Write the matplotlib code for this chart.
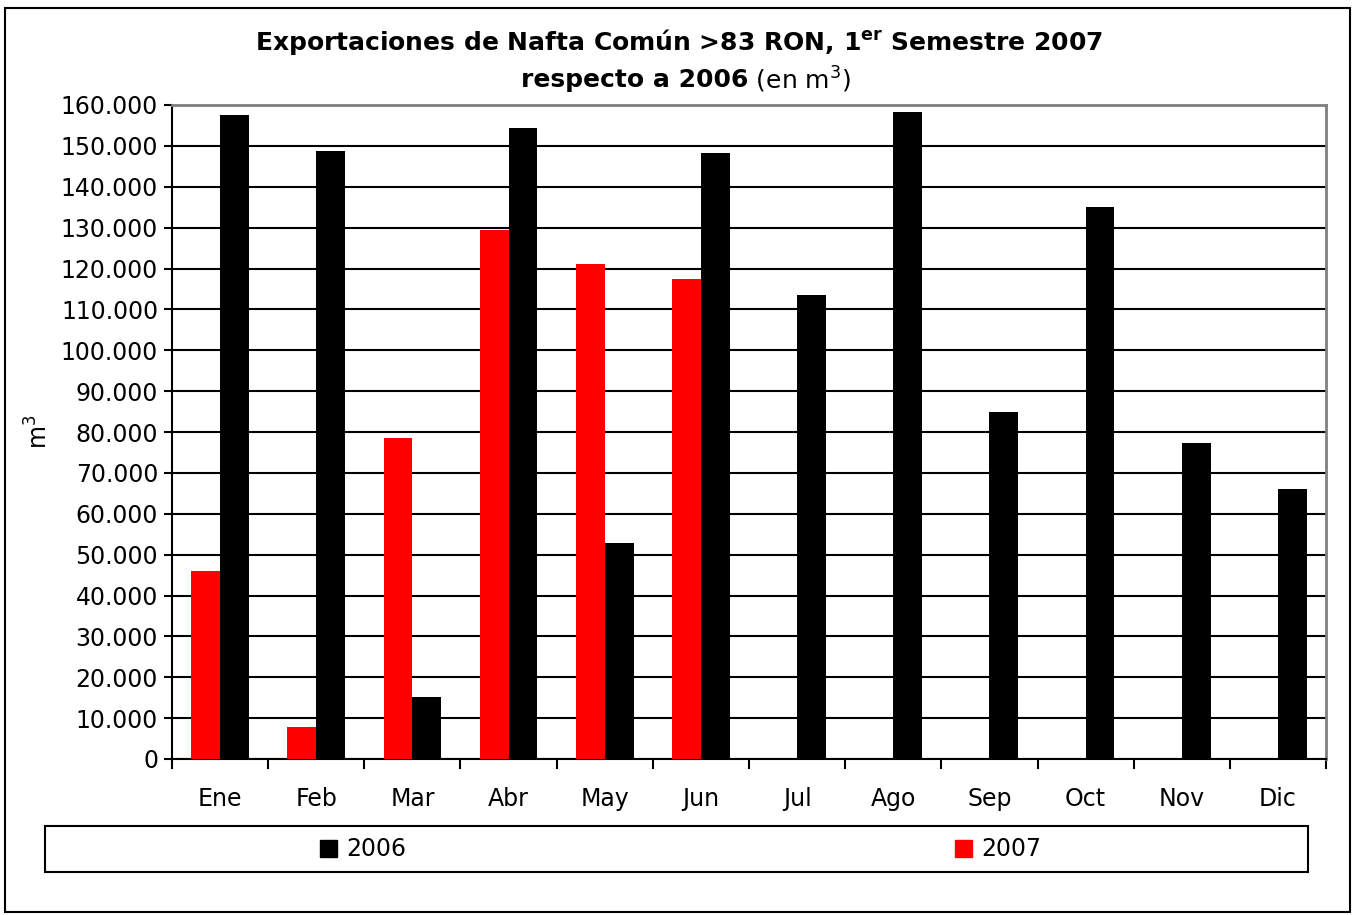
import numpy as np
from matplotlib import pyplot as plt
from matplotlib import patches as ptc
from matplotlib.ticker import FuncFormatter, MultipleLocator

meses = ['Ene', 'Feb', 'Mar', 'Abr', 'May', 'Jun',
         'Jul', 'Ago', 'Sep', 'Oct', 'Nov', 'Dic']
v2006 = [157600, 148700, 15200, 154400, 52800, 148300,
         113500, 158300, 84900, 135000, 77300, 66100]
v2007 = [46000, 7800, 78500, 129400, 121100, 117400]

plt.rcParams['font.family'] = ['DejaVu Sans']

fig = plt.figure(figsize=(13.58, 9.15), dpi=100)
# outer chart frame
fig.patches.append(ptc.Rectangle((5 / 1358, 3 / 915), 1345 / 1358, 904 / 915,
                                 transform=fig.transFigure, fill=False,
                                 edgecolor='black', linewidth=1.5))

ax = fig.add_axes([172 / 1358, 1 - 759 / 915, 1154 / 1358, 654 / 915])

x = np.arange(len(meses))
w = 0.3
ax.bar(x[:len(v2007)] - w / 2, v2007, w, color='#ff0000', zorder=3)
ax.bar(x + w / 2, v2006, w, color='black', zorder=3)

ax.set_xlim(-0.5, len(meses) - 0.5)
ax.set_ylim(0, 160000)
ax.yaxis.set_major_locator(MultipleLocator(10000))
ax.yaxis.set_major_formatter(
    FuncFormatter(lambda v, p: '0' if v == 0 else f'{int(v):,}'.replace(',', '.')))
ax.grid(axis='y', color='black', linewidth=1.5, zorder=1)

ax.set_xticks(x)
ax.set_xticklabels(meses, fontsize=17)
ax.set_xticks(np.arange(len(meses) + 1) - 0.5, minor=True)
ax.tick_params(axis='x', which='major', length=0, pad=20)
ax.tick_params(axis='x', which='minor', length=7, width=1.5, direction='out')
ax.tick_params(axis='y', labelsize=17, length=6, width=1.5, pad=4)

for s in ['top', 'right']:
    ax.spines[s].set_color('#808080')
    ax.spines[s].set_linewidth(2)
for s in ['left', 'bottom']:
    ax.spines[s].set_linewidth(1.5)

ax.set_ylabel('m$^3$', fontsize=17, labelpad=6)

fig.text(0.5, 1 - 42 / 915, 'Exportaciones de Nafta Común >83 RON, 1$^{\\mathbf{er}}$ Semestre 2007',
         ha='center', va='center', fontsize=18, fontweight='bold')
fig.text(748 / 1358, 1 - 80 / 915, 'respecto a 2006', ha='right', va='center',
         fontsize=18, fontweight='bold')
fig.text(748 / 1358, 1 - 80 / 915, ' (en m$^3$)', ha='left', va='center', fontsize=18)

# legend box
fig.patches.append(ptc.Rectangle((45 / 1358, 1 - 872 / 915), 1263 / 1358, 46 / 915,
                                 transform=fig.transFigure, fill=False,
                                 edgecolor='black', linewidth=1.5))
fig.patches.append(ptc.Rectangle((320 / 1358, 1 - 857 / 915), 17 / 1358, 17 / 915,
                                 transform=fig.transFigure, color='black'))
fig.text(346 / 1358, 1 - 849 / 915, '2006', va='center', fontsize=17)
fig.patches.append(ptc.Rectangle((955 / 1358, 1 - 857 / 915), 17 / 1358, 17 / 915,
                                 transform=fig.transFigure, color='#ff0000'))
fig.text(981 / 1358, 1 - 849 / 915, '2007', va='center', fontsize=17)

plt.savefig('out.png', dpi=100)
